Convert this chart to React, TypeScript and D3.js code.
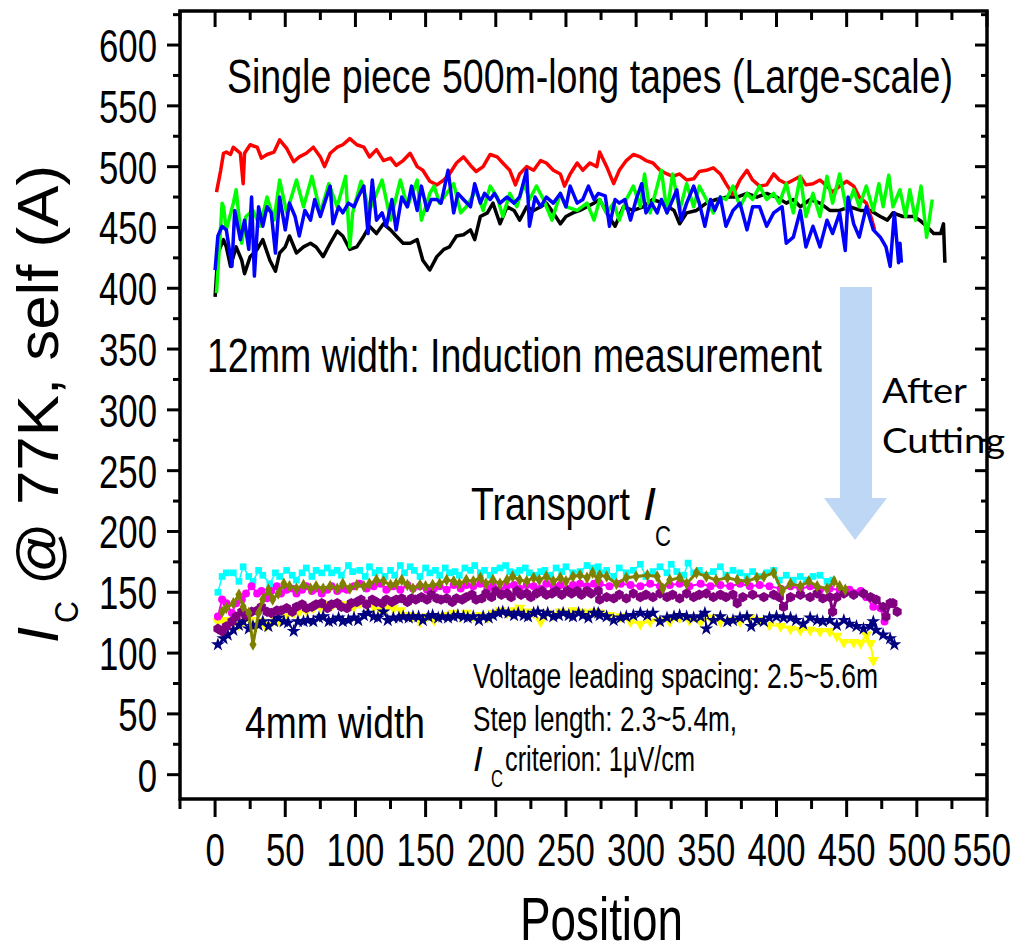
import React from 'react';
import * as d3 from 'd3';

type Pt = [number, number];

// 12 mm tapes, induction measurement (position m, Ic A)
const redTape: Pt[] = [
  [1,479],[4,497],[6,511],[8,512],[11,510],[13,516],[15,514],[18,511],[20,486],[21,511],[25,518],[30,516],[33,507],[37,510],[42,512],[46,522],[51,515],[56,504],[60,508],[65,511],[70,516],[75,508],[78,500],[82,511],[87,516],[91,518],[96,523],[101,518],[106,516],[110,508],[115,514],[120,505],[125,507],[129,501],[134,505],[139,511],[144,500],[148,497],[153,488],[158,485],[163,489],[167,494],[172,503],[177,508],[182,501],[186,496],[191,500],[196,510],[201,508],[205,503],[210,497],[214,485],[217,494],[222,500],[227,497],[232,505],[236,503],[241,497],[246,494],[249,484],[253,494],[258,503],[262,497],[267,503],[272,500],
  [274,512],[279,500],[284,486],[288,497],[293,505],[298,510],[303,508],[307,505],[312,503],[317,497],[322,494],[326,492],[331,494],[336,489],[341,490],[345,496],[350,497],[355,499],[360,494],[364,486],[369,477],[374,489],[379,497],[383,489],[388,484],[393,485],[398,494],[402,489],[407,486],[412,489],[417,492],[421,485],[426,486],[431,489],[436,484],[440,479],[445,484],[450,488],[455,484],[459,475],[464,470],[468,456],[470,448],
];
const greenTape: Pt[] = [
  [1,396],[5,470],[6,467],[8,448],[13,470],[15,481],[19,437],[22,459],[27,464],[32,451],[37,475],[42,456],[46,489],[51,462],[58,489],[63,467],[69,492],[75,462],[81,486],[87,467],[93,492],[96,434],[98,462],[104,488],[110,464],[119,489],[125,456],[132,489],[137,467],[144,489],[147,456],[153,478],[156,484],[160,470],[170,486],[175,462],[179,467],[186,481],[191,464],[196,484],[201,475],[205,459],[210,478],[215,467],[220,486],[224,473],[229,484],[234,473],[240,456],[246,478],[250,467],[258,464],[265,470],[270,456],[274,473],
  [279,462],[284,470],[288,456],[293,473],[298,484],[303,467],[306,494],[310,462],[315,484],[318,497],[322,462],[326,494],[331,464],[336,486],[341,467],[345,484],[350,473],[355,462],[360,475],[364,473],[369,484],[374,467],[379,478],[383,473],[388,484],[393,473],[398,478],[402,470],[407,486],[412,462],[417,492],[421,459],[426,478],[431,459],[436,492],[440,470],[445,494],[450,464],[455,481],[459,467],[464,484],[469,464],[473,486],[476,467],[480,493],[483,467],[488,481],[492,459],[495,481],[499,456],[503,484],[507,442],[511,473],
];
const blueTape: Pt[] = [
  [0,415],[2,443],[5,451],[8,448],[12,418],[14,464],[18,440],[21,456],[24,432],[26,475],[28,410],[31,467],[34,451],[37,467],[40,462],[43,429],[46,475],[50,448],[53,470],[57,459],[60,443],[64,464],[68,456],[71,473],[75,459],[78,470],[82,484],[84,453],[88,467],[91,462],[95,470],[99,467],[102,475],[106,484],[109,445],[112,489],[115,456],[119,462],[122,451],[126,473],[129,448],[133,475],[137,467],[140,484],[144,464],[147,484],[151,464],[154,473],[158,473],[161,470],[166,497],[170,462],[173,478],[177,473],[182,467],[185,486],[189,470],[192,478],[196,473],[199,478],[203,470],[208,475],[213,470],[217,475],[222,497],[224,451],[228,475],[232,467],[236,475],[241,470],[246,478],[250,467],[253,484],[258,470],[262,473],[266,484],[270,473],[273,478],
  [278,476],[281,451],[285,473],[288,470],[292,473],[296,456],[300,473],[304,486],[307,462],[311,470],[315,462],[318,473],[322,462],[325,470],[329,481],[332,456],[336,470],[341,484],[345,470],[349,451],[353,473],[356,464],[360,475],[364,451],[369,464],[374,470],[379,448],[383,467],[388,467],[393,451],[398,462],[404,467],[407,437],[412,442],[417,464],[421,434],[426,451],[431,434],[436,456],[440,445],[445,462],[449,431],[451,475],[455,453],[459,442],[464,467],[469,448],[474,442],[478,434],[481,418],[484,462],[487,421],[488,437],[489,421],
];
const blackTape: Pt[] = [
  [0,393],[2,429],[6,440],[8,434],[11,418],[15,434],[19,423],[21,412],[25,426],[30,432],[34,440],[39,423],[43,414],[46,429],[50,434],[53,443],[58,429],[63,434],[68,437],[72,434],[77,426],[82,437],[87,447],[91,443],[96,432],[101,434],[106,443],[110,451],[115,445],[120,453],[125,448],[129,443],[134,437],[139,437],[144,440],[148,423],[153,415],[158,426],[163,432],[167,434],[172,443],[177,444],[182,448],[185,440],[189,459],[194,462],[198,470],[203,453],[208,467],[213,464],[217,456],[222,467],[227,464],[232,467],[236,470],[241,462],[246,453],[250,459],[255,462],[260,464],[265,467],[270,470],[274,473],
  [279,462],[285,451],[291,467],[298,464],[305,467],[312,473],[319,470],[327,464],[331,453],[336,462],[343,464],[350,470],[357,473],[365,475],[372,475],[379,478],[386,475],[393,478],[400,475],[407,470],[412,473],[417,467],[424,473],[431,470],[438,464],[445,464],[452,467],[460,464],[467,464],[474,459],[479,456],[483,462],[490,459],[498,459],[502,456],[507,451],[512,445],[517,445],[519,453],[520,421],
];

// 4 mm tapes, transport Ic
const cyanTape: Pt[] = [
  [2,150],[5,163],[8,166],[13,166],[17,159],[20,171],[24,163],[27,159],[31,168],[34,164],[39,157],[43,166],[46,163],[51,168],[55,164],[58,160],[62,166],[65,170],[69,163],[72,168],[76,166],[80,170],[83,166],[87,168],[90,164],[95,172],[98,167],[103,168],[107,163],[110,171],[114,166],[117,168],[121,163],[125,168],[128,164],[132,172],[135,166],[139,171],[142,168],[146,163],[150,170],[153,166],[157,168],[160,164],[164,170],[167,166],[171,167],[174,164],[178,170],[182,168],[185,172],[189,166],[192,168],[196,164],[199,168],[203,170],[207,172],[210,167],[214,166],[217,168],[221,170],[224,166],[228,164],[232,167],[235,168],[239,164],[243,170],[247,167],[250,171],[255,166],[260,167],[265,172],[269,170],[273,171],
  [274,166],[279,168],[284,163],[288,170],[293,166],[298,168],[303,173],[307,163],[312,167],[317,171],[322,166],[325,173],[329,167],[334,164],[337,174],[341,166],[345,168],[350,164],[355,167],[360,171],[364,164],[369,168],[374,166],[379,163],[383,167],[388,163],[393,166],[398,168],[402,160],[407,164],[412,160],[417,163],[421,160],[426,163],[431,164],[436,159],[440,160],
];
const oliveTape: Pt[] = [
  [5,134],[8,137],[13,141],[17,148],[20,138],[24,133],[27,107],[31,133],[34,144],[38,152],[41,144],[45,149],[49,157],[53,155],[58,153],[63,156],[68,153],[72,155],[77,153],[82,155],[87,153],[91,157],[96,153],[101,156],[106,155],[110,157],[115,160],[120,159],[125,156],[129,157],[133,160],[137,156],[141,153],[146,156],[150,155],[155,156],[160,157],[165,160],[170,159],[174,157],[179,160],[184,159],[189,162],[193,157],[198,160],[203,157],[208,160],[212,163],[217,160],[222,159],[227,162],[231,160],[236,163],[241,159],[246,162],[250,159],[255,163],[260,164],[265,162],[269,166],[273,160],
  [274,164],[279,163],[286,157],[293,162],[300,163],[308,164],[315,163],[319,153],[324,160],[331,162],[336,157],[343,166],[350,163],[357,160],[365,162],[372,160],[379,159],[386,162],[391,163],[398,166],[404,151],[410,157],[417,155],[423,159],[429,155],[436,153],[441,159],[445,155],[449,152],
];
const magentaTape: Pt[] = [
  [2,130],[5,144],[8,141],[12,133],[15,141],[19,144],[22,149],[26,155],[30,149],[33,151],[37,145],[40,151],[44,155],[47,149],[51,152],[55,153],[58,149],[62,152],[65,155],[69,151],[72,153],[76,149],[80,152],[83,155],[87,151],[90,153],[94,152],[99,155],[103,157],[108,153],[113,155],[118,157],[122,152],[127,155],[132,152],[137,156],[141,153],[146,155],[151,152],[156,153],[160,155],[165,152],[170,156],[175,153],[179,156],[184,155],[189,157],[194,153],[198,155],[203,152],[208,155],[213,156],[217,153],[222,156],[227,155],[232,153],[236,157],[241,155],[246,156],[251,153],[255,156],[260,157],[265,155],[270,157],[273,156],
  [274,157],[281,155],[289,157],[296,156],[303,155],[310,157],[317,155],[324,156],[331,157],[338,155],[346,157],[353,155],[360,156],[367,155],[374,157],[381,155],[388,156],[395,155],[403,153],[410,155],[417,153],[424,155],[431,152],[438,153],[445,152],[452,152],[460,151],[464,146],[469,138],[474,137],[477,126],
];
const purpleTape: Pt[] = [
  [2,120],[5,118],[8,122],[12,126],[15,130],[19,134],[22,131],[26,134],[30,135],[33,138],[37,134],[40,133],[44,135],[47,135],[51,137],[55,134],[58,138],[62,140],[65,137],[69,138],[72,140],[76,141],[80,137],[83,140],[87,141],[90,138],[94,137],[97,141],[101,142],[104,144],[108,140],[112,144],[115,142],[119,141],[122,144],[126,142],[129,144],[133,145],[137,142],[140,145],[143,144],[147,146],[151,144],[154,148],[158,145],[161,144],[165,145],[169,142],[172,145],[176,144],[179,146],[183,148],[186,144],[190,145],[193,149],[197,146],[200,151],[204,148],[208,149],[211,146],[215,151],[218,148],[222,149],[225,146],[229,149],[233,151],[236,148],[240,149],[243,151],[247,148],[251,151],[254,149],[258,151],[261,148],[265,151],[268,149],[273,151],
  [274,144],[279,146],[284,145],[288,148],[293,145],[298,149],[303,146],[307,148],[312,146],[317,149],[322,146],[326,148],[331,145],[336,149],[341,146],[345,148],[350,149],[355,146],[360,148],[364,146],[369,148],[372,141],[376,146],[383,148],[391,146],[398,148],[402,146],[405,138],[410,146],[417,148],[424,146],[429,149],[433,145],[438,146],[440,134],[443,146],[448,149],[455,148],[462,149],[467,146],[471,144],[476,138],[478,130],[481,141],[483,141],[486,134],
];
const yellowTape: Pt[] = [
  [2,126],[6,127],[9,124],[13,126],[17,123],[20,126],[25,127],[28,123],[32,126],[36,122],[39,123],[43,127],[46,126],[51,130],[56,133],[60,134],[65,135],[70,137],[75,138],[80,140],[84,140],[89,140],[94,140],[99,138],[103,141],[108,140],[113,138],[118,135],[122,137],[127,137],[132,135],[137,131],[141,130],[146,126],[151,130],[156,127],[160,130],[165,131],[170,133],[175,130],[179,133],[184,130],[189,131],[194,129],[198,133],[203,135],[208,133],[212,135],[217,137],[222,134],[227,133],[232,126],[236,133],[241,131],[246,134],[251,133],[255,135],[260,134],[265,133],[270,134],[273,133],
  [274,133],[281,131],[289,130],[296,126],[303,124],[310,126],[317,127],[324,126],[331,129],[338,127],[346,126],[353,129],[360,126],[367,127],[374,126],[381,129],[388,127],[395,123],[403,122],[410,120],[417,119],[424,119],[431,118],[438,118],[443,114],[448,109],[455,109],[460,108],[464,115],[467,108],[469,94],
];
const navyTape: Pt[] = [
  [2,107],[6,112],[9,115],[13,119],[17,123],[20,126],[24,120],[27,122],[31,123],[34,126],[38,122],[42,126],[45,129],[49,126],[52,125],[56,118],[59,126],[63,126],[66,127],[70,126],[74,129],[77,130],[81,126],[84,127],[88,129],[91,126],[95,127],[99,129],[102,127],[106,131],[109,133],[113,130],[116,129],[120,134],[123,127],[127,129],[131,129],[134,130],[138,129],[141,130],[145,130],[148,127],[152,130],[155,131],[159,129],[162,130],[166,129],[170,130],[173,131],[177,130],[180,129],[184,130],[188,127],[191,130],[195,129],[198,131],[202,133],[205,134],[209,133],[213,131],[216,133],[220,131],[223,130],[227,133],[230,134],[234,131],[237,133],[241,130],[245,131],[248,133],[252,131],[255,130],[259,133],[262,131],[266,129],[270,133],[273,133],
  [274,131],[279,130],[284,127],[289,129],[293,130],[298,131],[303,133],[308,131],[312,133],[317,126],[322,129],[327,130],[331,131],[336,130],[341,129],[346,130],[349,133],[350,120],[355,127],[360,130],[365,126],[369,127],[374,129],[379,130],[382,122],[386,127],[391,126],[395,129],[400,130],[405,129],[410,129],[414,127],[419,124],[424,129],[429,127],[433,126],[438,127],[443,123],[448,127],[452,124],[457,122],[462,120],[467,122],[469,126],[471,119],[476,115],[481,112],[484,107],
];

const xTickLabels = [0, 50, 100, 150, 200, 250, 300, 350, 400, 450, 500, 550];
const yTickLabels = [0, 50, 100, 150, 200, 250, 300, 350, 400, 450, 500, 550, 600];

const FONT = '"Liberation Sans", Arial, sans-serif';

const x = d3.scaleLinear().domain([-25, 550]).range([180, 987]);
const y = d3.scaleLinear().domain([-20, 628]).range([799, 11]);

const line = d3.line<Pt>().x(d => x(d[0])).y(d => y(d[1]));

// custom hexagon marker
const symbolHexagon = {
  draw(ctx: any, size: number) {
    const r = Math.sqrt(size / 2.598);
    for (let i = 0; i < 6; i++) {
      const a = (Math.PI / 3) * i + Math.PI / 6;
      if (i === 0) ctx.moveTo(r * Math.cos(a), r * Math.sin(a));
      else ctx.lineTo(r * Math.cos(a), r * Math.sin(a));
    }
    ctx.closePath();
  },
};

const topSeries = [
  { data: blackTape, color: '#000000' },
  { data: redTape, color: '#ff0000' },
  { data: greenTape, color: '#00ff00' },
  { data: blueTape, color: '#0000ff' },
];

const bottomSeries = [
  { data: yellowTape, color: '#ffff00', sym: d3.symbolTriangle, size: 55, rot: 180, lw: 2 },
  { data: navyTape, color: '#000080', sym: d3.symbolStar, size: 60, rot: 0, lw: 1.5 },
  { data: cyanTape, color: '#00ffff', sym: d3.symbolSquare, size: 45, rot: 0, lw: 1.5 },
  { data: magentaTape, color: '#ff00ff', sym: d3.symbolCircle, size: 50, rot: 0, lw: 2 },
  { data: purpleTape, color: '#800080', sym: symbolHexagon, size: 70, rot: 0, lw: 3 },
  { data: oliveTape, color: '#808000', sym: d3.symbolDiamond, size: 45, rot: 0, lw: 3 },
];

function Cond({ x: px, y: py, sx = 0.74, size = 47, anchor = 'middle', children }: any) {
  return (
    <text transform={`translate(${px},${py}) scale(${sx},1)`} textAnchor={anchor} fontSize={size} fontFamily={FONT} fill="#000">
      {children}
    </text>
  );
}

function Fit({ x: px, y: py, len, size, children, family = FONT }: any) {
  return (
    <text x={px} y={py} textLength={len} lengthAdjust="spacingAndGlyphs" fontSize={size} fontFamily={family} fill="#000">
      {children}
    </text>
  );
}

export default function App() {
  const [x0, x1] = x.range();
  const [y0, y1] = y.range();
  const xMinor = d3.range(-25, 551, 25).filter(v => v % 50 !== 0);
  const yMinor = d3.range(25, 628, 25).filter(v => v % 50 !== 0);

  return (
    <svg width={1023} height={947} style={{ position: 'absolute', left: 0, top: 0, background: '#fff' }}>
      <rect width={1023} height={947} fill="#fff" />

      {/* top (12 mm) series */}
      {topSeries.map((s, i) => (
        <path key={i} d={line(s.data) || ''} fill="none" stroke={s.color} strokeWidth={3.5} strokeLinejoin="round" />
      ))}

      {/* bottom (4 mm) series */}
      {bottomSeries.map((s, i) => {
        const sym = d3.symbol().type(s.sym as any).size(s.size)() || '';
        return (
          <g key={i}>
            <path d={line(s.data) || ''} fill="none" stroke={s.color} strokeWidth={s.lw} strokeLinejoin="round" />
            {s.data.map((d, j) => (
              <path key={j} d={sym} fill={s.color} transform={`translate(${x(d[0])},${y(d[1])}) rotate(${s.rot})`} />
            ))}
          </g>
        );
      })}

      {/* arrow */}
      <path d="M840,287 L872,287 L872,498 L887,498 L855,540 L824,498 L840,498 Z" fill="#bdd7f5" />

      {/* frame */}
      <rect x={x0} y={y1} width={x1 - x0} height={y0 - y1} fill="none" stroke="#000" strokeWidth={3.5} />

      {/* ticks */}
      <g stroke="#000" strokeWidth={3}>
        {xTickLabels.map(v => (
          <g key={'xm' + v}>
            <line x1={x(v)} x2={x(v)} y1={y0} y2={y0 + 18} />
            <line x1={x(v)} x2={x(v)} y1={y1} y2={y1 + 16} />
          </g>
        ))}
        {xMinor.map(v => (
          <g key={'xn' + v}>
            <line x1={x(v)} x2={x(v)} y1={y0} y2={y0 + 10} />
            <line x1={x(v)} x2={x(v)} y1={y1} y2={y1 + 9} />
          </g>
        ))}
        {yTickLabels.map(v => (
          <g key={'ym' + v}>
            <line x1={x0 - 13} x2={x0} y1={y(v)} y2={y(v)} />
            <line x1={x1 - 12} x2={x1} y1={y(v)} y2={y(v)} />
          </g>
        ))}
        {yMinor.map(v => (
          <g key={'yn' + v}>
            <line x1={x0 - 7} x2={x0} y1={y(v)} y2={y(v)} />
            <line x1={x1 - 6} x2={x1} y1={y(v)} y2={y(v)} />
          </g>
        ))}
      </g>

      {/* tick labels */}
      {xTickLabels.map((v, i) => (
        <Cond key={'xl' + v} x={x(v) - (i === xTickLabels.length - 1 ? 5 : 0)} y={866}>{v}</Cond>
      ))}
      {yTickLabels.map(v => (
        <Cond key={'yl' + v} x={157} y={y(v) + 17} anchor="end">{v}</Cond>
      ))}

      {/* axis titles */}
      <Fit x={520} y={940} len={163} size={62}>Position</Fit>
      <g transform="translate(58,645) rotate(-90)" fontFamily={FONT}>
        <text x={2} y={0} fontSize={58} fontStyle="italic">I</text>
        <text x={22} y={20} fontSize={34} textLength={22} lengthAdjust="spacingAndGlyphs">C</text>
        <text x={60} y={0} fontSize={58} textLength={420} lengthAdjust="spacingAndGlyphs">@ 77K, self (A)</text>
      </g>

      {/* annotations */}
      <Fit x={227} y={93} len={726} size={48}>Single piece 500m-long tapes (Large-scale)</Fit>
      <Fit x={207} y={372} len={615} size={48}>12mm width: Induction measurement</Fit>
      <Fit x={471} y={520} len={159} size={47}>Transport</Fit>
      <text x={643} y={520} fontSize={47} fontStyle="italic" fontFamily={FONT}>I</text>
      <text x={655} y={546} fontSize={30} fontFamily={FONT} textLength={16} lengthAdjust="spacingAndGlyphs">C</text>
      <Fit x={245} y={738} len={180} size={45}>4mm width</Fit>
      <Fit x={473} y={688} len={405} size={35}>Voltage leading spacing: 2.5~5.6m</Fit>
      <Fit x={473} y={731} len={264} size={35}>Step length: 2.3~5.4m,</Fit>
      <text x={473} y={771} fontSize={35} fontStyle="italic" fontFamily={FONT}>I</text>
      <text x={491} y={787} fontSize={23} fontFamily={FONT} textLength={12} lengthAdjust="spacingAndGlyphs">C</text>
      <Fit x={505} y={771} len={190} size={35}>criterion: 1μV/cm</Fit>
      <Fit x={882} y={403} len={85} size={34} family="Lato, sans-serif">After</Fit>
      <Fit x={882} y={453} len={123} size={34} family="Lato, sans-serif">Cutting</Fit>
    </svg>
  );
}
